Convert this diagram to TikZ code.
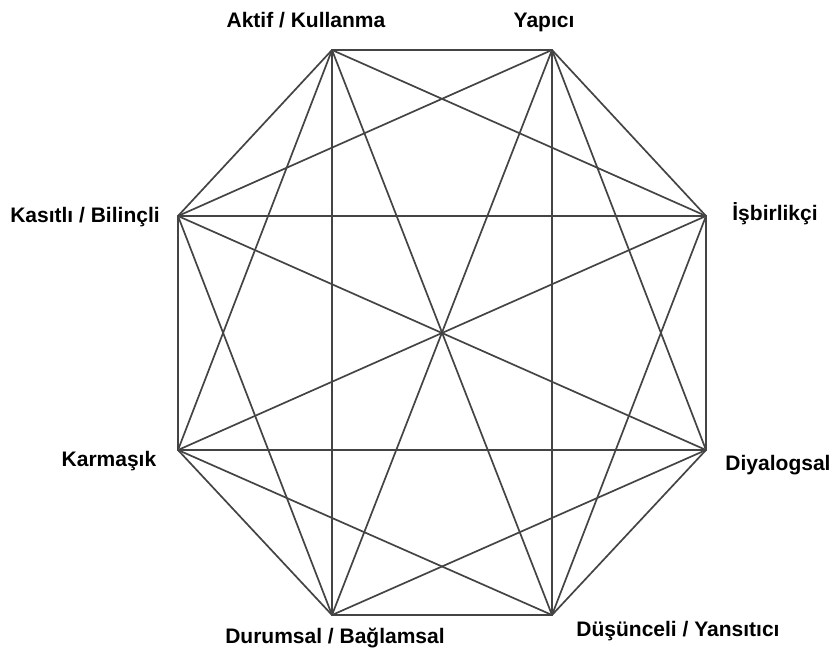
\documentclass[tikz,border=0pt]{standalone}
\usepackage{fontspec}
\setmainfont{Liberation Sans}
\usetikzlibrary{positioning}
\definecolor{cedge}{HTML}{444444}
\tikzset{
  every picture/.style={line width=1.7pt},
  edge/.style={draw=cedge, line cap=round},
  lbl/.style={font=\bfseries\fontsize{21}{25}\selectfont, anchor=base, inner sep=0pt},
}
\begin{document}
\begin{tikzpicture}[x=1pt, y=-1pt]
  \useasboundingbox (0,0) rectangle (834,653);
  % ---------- corners of the octagon, clockwise from top left
  \foreach \x/\y [count=\i] in {332/50, 552/50, 706/216, 706/450, 552/615, 332/615, 178/450, 178/216}
    \coordinate (c\i) at (\x,\y);
  % ---------- corners joined, all but the four slanted chords
  \foreach \i [evaluate=\i as \k using int(\i+1)] in {1,...,7}
    \foreach \j in {\k,...,8} {
      \pgfmathtruncatemacro{\nochord}{(\i==1 && \j==4) || (\i==2 && \j==7) || (\i==3 && \j==6) || (\i==5 && \j==8)}
      \ifnum\nochord=0 \draw[edge] (c\i) -- (c\j); \fi
    }
  % ---------- labels
  \node[lbl] (aktif) at (306,27) {Aktif / Kullanma};
  \node[lbl] (yapici) at (544,27) {Yapıcı};
  \node[lbl] (isbirlikci) at (775,220) {İşbirlikçi};
  \node[lbl] (diyalogsal) at (778,470) {Diyalogsal};
  \node[lbl] (dusunceli) at (678,636) {Düşünceli / Yansıtıcı};
  \node[lbl] (durumsal) at (335,643) {Durumsal / Bağlamsal};
  \node[lbl] (karmasik) at (109,466) {Karmaşık};
  \node[lbl] (kasitli) at (85,222) {Kasıtlı / Bilinçli};
\end{tikzpicture}
\end{document}
